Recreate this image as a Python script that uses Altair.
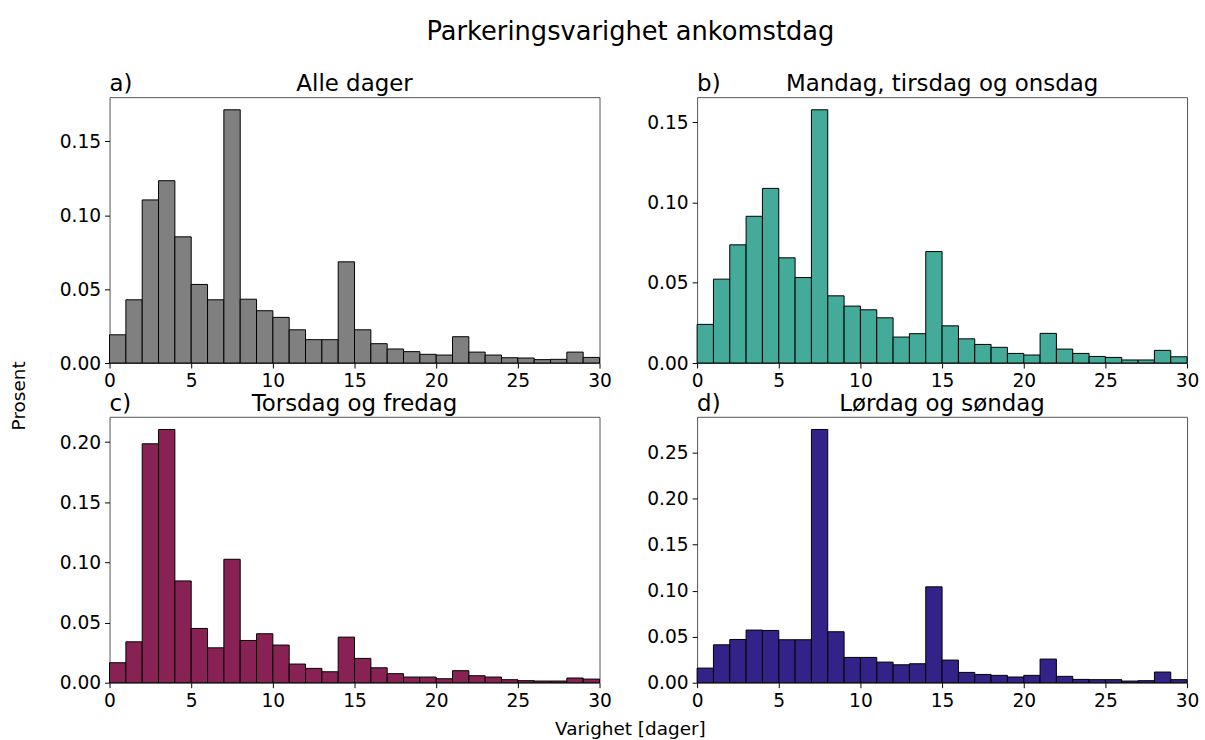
import altair as alt
import pandas as pd

FONT = "DejaVu Sans"

bins = list(range(30))

alle = [0.0191, 0.0428, 0.1104, 0.1234, 0.0854, 0.0532, 0.0428, 0.1714, 0.0432, 0.0354,
        0.0309, 0.0225, 0.0158, 0.0158, 0.0685, 0.0225, 0.0131, 0.0095, 0.0077, 0.0059,
        0.0054, 0.0178, 0.0074, 0.0054, 0.0036, 0.0034, 0.0023, 0.0025, 0.0074, 0.0038]
man_ons = [0.0241, 0.0523, 0.0737, 0.0915, 0.1089, 0.0656, 0.0533, 0.1579, 0.0419, 0.0355,
           0.0332, 0.0282, 0.0162, 0.0183, 0.0695, 0.0232, 0.0151, 0.0116, 0.0098, 0.0060,
           0.0050, 0.0185, 0.0087, 0.0060, 0.0041, 0.0035, 0.0019, 0.0019, 0.0079, 0.0039]
tor_fre = [0.0166, 0.0340, 0.1986, 0.2105, 0.0846, 0.0451, 0.0290, 0.1026, 0.0351, 0.0407,
           0.0313, 0.0155, 0.0119, 0.0091, 0.0379, 0.0202, 0.0124, 0.0075, 0.0047, 0.0047,
           0.0033, 0.0100, 0.0058, 0.0047, 0.0025, 0.0017, 0.0014, 0.0014, 0.0039, 0.0030]
lor_son = [0.0159, 0.0412, 0.0470, 0.0572, 0.0568, 0.0467, 0.0467, 0.2753, 0.0554, 0.0275,
           0.0275, 0.0224, 0.0195, 0.0206, 0.1042, 0.0246, 0.0112, 0.0090, 0.0080, 0.0062,
           0.0080, 0.0257, 0.0069, 0.0036, 0.0033, 0.0033, 0.0018, 0.0022, 0.0116, 0.0033]

letters = ["a)", "b)", "c)", "d)"]
titles = ["Alle dager", "Mandag, tirsdag og onsdag", "Torsdag og fredag", "Lørdag og søndag"]
colors = ["#808080", "#44AA99", "#882255", "#332288"]
x_ticks = [0, 5, 10, 15, 20, 25, 30]

suptitle = "Parkeringsvarighet ankomstdag"
xlabel = "Varighet [dager]"
ylabel = "Prosent"

W, H = 492, 267


def text_layer(text, x, y, size, align="left", angle=0, baseline="alphabetic"):
    return alt.Chart(pd.DataFrame({"t": [text]})).mark_text(
        align=align, baseline=baseline, fontSize=size, angle=angle, font=FONT, color="black"
    ).encode(text="t:N", x=alt.value(x), y=alt.value(y))


def panel(vals, color, letter, title, extra=()):
    df = pd.DataFrame({"start": bins, "end": [b + 1 for b in bins], "v": vals,
                       "base": [0.0] * len(bins)})
    ymax = max(vals) * 1.05
    yt = [round(0.05 * i, 2) for i in range(int(ymax / 0.05 + 1e-9) + 1)]
    bars = alt.Chart(df).mark_bar(color=color, stroke="black", strokeWidth=1, opacity=1).encode(
        x=alt.X("start:Q", scale=alt.Scale(domain=[0, 30], nice=False, zero=False),
                axis=alt.Axis(values=x_ticks, title=None, format="d")),
        x2="end:Q",
        y=alt.Y("v:Q", scale=alt.Scale(domain=[0, ymax], nice=False),
                axis=alt.Axis(values=yt, format=".2f", title=None)),
        y2="base:Q",
    )
    layers = [bars,
              text_layer(letter, 0, -6, 23),
              text_layer(title, W / 2, -6, 23, align="center")]
    layers += list(extra)
    return alt.layer(*layers).properties(width=W, height=H)


pa = panel(alle, colors[0], letters[0], titles[0], extra=[
    text_layer(suptitle, 523, -57, 25.8, align="center"),
    text_layer(ylabel, -91, 300, 18.5, align="center", angle=270, baseline="middle"),
])
pb = panel(man_ons, colors[1], letters[1], titles[1])
pc = panel(tor_fre, colors[2], letters[2], titles[2], extra=[
    text_layer(xlabel, 523, 320, 18.5, align="center"),
])
pdd = panel(lor_son, colors[3], letters[3], titles[3])

chart = alt.concat(
    pa, pb, pc, pdd, columns=2, spacing={"row": 54, "column": 98}, bounds="flush"
).properties(
    padding={"left": 9, "top": 17, "right": 5, "bottom": 0}
).configure(font=FONT).configure_view(
    stroke="#555555", strokeWidth=1
).configure_axis(
    labelFontSize=18.7, labelColor="black", labelFont=FONT, tickColor="black", tickSize=5,
    tickWidth=1, domain=False, grid=False, labelPadding=4, labelFlush=False, labelOverlap=False
)

chart.save("out.html", embed_options={"renderer": "svg", "actions": False})
